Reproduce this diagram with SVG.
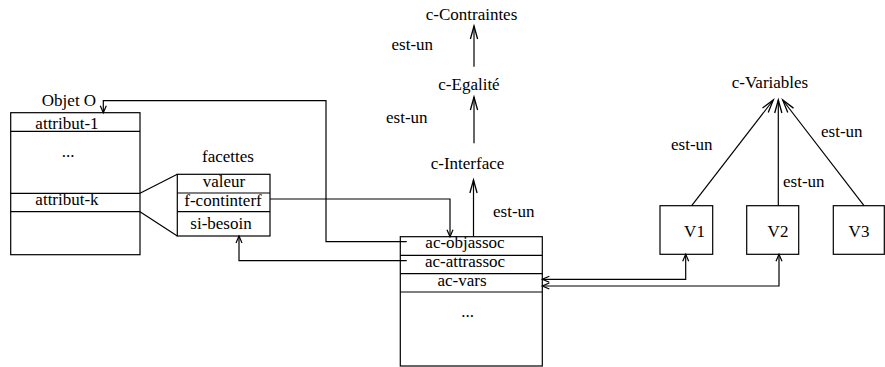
<svg xmlns="http://www.w3.org/2000/svg" width="885" height="367" viewBox="0 0 885 367">
<style>
text{font-family:"Liberation Serif","Times New Roman",serif;font-size:17px;fill:#000}
.c{text-anchor:middle}
.b{fill:#fff;stroke:#000;stroke-width:1.2}
.l{fill:none;stroke:#000;stroke-width:1.2}
</style>
<defs>
<marker id="big" markerUnits="userSpaceOnUse" markerWidth="20" markerHeight="20" viewBox="-16 -8 20 16" refX="0" refY="0" orient="auto">
<path d="M-13,-3.6 L0,0 L-13,3.6" fill="none" stroke="#000" stroke-width="1.3"/>
</marker>
<marker id="sm" markerUnits="userSpaceOnUse" markerWidth="14" markerHeight="14" viewBox="-10 -6 14 12" refX="0" refY="0" orient="auto">
<path d="M-7,-3 L0,0 L-7,3" fill="none" stroke="#000" stroke-width="1.2"/>
</marker>
</defs>
<rect width="885" height="367" fill="#fff"/>

<g id="objet-o">
<text class="c" x="69" y="106">Objet O</text>
<rect class="b" x="10.7" y="112.7" width="129.3" height="142"/>
<line class="l" x1="10.7" y1="131.3" x2="140" y2="131.3"/>
<line class="l" x1="10.7" y1="193.3" x2="140" y2="193.3"/>
<line class="l" x1="10.7" y1="211.7" x2="140" y2="211.7"/>
<text class="c" x="67" y="129">attribut-1</text>
<text class="c" x="68" y="157">...</text>
<text class="c" x="67" y="205">attribut-k</text>
</g>

<g id="facettes">
<text class="c" x="228" y="161.5">facettes</text>
<rect class="b" x="177.3" y="174.3" width="92.7" height="61.7"/>
<line class="l" x1="177.3" y1="193" x2="270" y2="193"/>
<line class="l" x1="177.3" y1="211.7" x2="270" y2="211.7"/>
<text class="c" x="224" y="186.5">valeur</text>
<text class="c" x="223" y="206">f-continterf</text>
<text class="c" x="221" y="229">si-besoin</text>
</g>

<g id="ac">
<rect class="b" x="400.3" y="236.7" width="142" height="129.3"/>
<line class="l" x1="400.3" y1="255.3" x2="542.3" y2="255.3"/>
<line class="l" x1="400.3" y1="273.7" x2="542.3" y2="273.7"/>
<line class="l" x1="400.3" y1="292" x2="542.3" y2="292"/>
<text class="c" x="465" y="248.3">ac-objassoc</text>
<text class="c" x="465" y="267">ac-attrassoc</text>
<text class="c" x="462" y="285.5">ac-vars</text>
<text class="c" x="467.5" y="317">...</text>
</g>

<g id="c-contraintes"><text class="c" x="471.5" y="20">c-Contraintes</text></g>
<g id="c-egalite"><text class="c" x="469" y="90">c-Egalité</text></g>
<g id="c-interface"><text class="c" x="467.5" y="169">c-Interface</text></g>
<g id="c-variables"><text class="c" x="770" y="88">c-Variables</text></g>

<g id="v1"><rect class="b" x="660" y="205.7" width="52.7" height="48.6"/><text class="c" x="694.5" y="236.5">V1</text></g>
<g id="v2"><rect class="b" x="746.7" y="205.7" width="52" height="48.6"/><text class="c" x="778" y="236.5">V2</text></g>
<g id="v3"><rect class="b" x="833.3" y="205.7" width="51" height="48.6"/><text class="c" x="859" y="236.5">V3</text></g>

<g id="connectors">
<line class="l" x1="474" y1="66.7" x2="474" y2="26" marker-end="url(#big)"/>
<line class="l" x1="474" y1="143.3" x2="474" y2="97" marker-end="url(#big)"/>
<line class="l" x1="473.5" y1="236.7" x2="473.5" y2="180" marker-end="url(#big)"/>
<text x="391.5" y="50">est-un</text>
<text x="386" y="123.3">est-un</text>
<text x="493" y="216.5">est-un</text>

<line class="l" x1="691.7" y1="205.7" x2="773.3" y2="100" marker-end="url(#big)"/>
<line class="l" x1="778.3" y1="205.7" x2="778.3" y2="100" marker-end="url(#big)"/>
<line class="l" x1="864" y1="205.7" x2="782.7" y2="100" marker-end="url(#big)"/>
<text x="671" y="150">est-un</text>
<text x="783" y="186.5">est-un</text>
<text x="821" y="136.5">est-un</text>

<polyline class="l" points="406.7,241.7 326,241.7 326,100.7 103.3,100.7 103.3,112.7" marker-end="url(#sm)"/>
<polyline class="l" points="270,199 450,199 450,236.7" marker-end="url(#sm)"/>
<polyline class="l" points="406.7,260.7 239,260.7 239,236" marker-end="url(#sm)"/>
<line class="l" x1="140" y1="193.3" x2="177.3" y2="174.3"/>
<line class="l" x1="140" y1="211.7" x2="177.3" y2="236"/>

<polyline class="l" points="542.3,279.3 685.7,279.3 685.7,254.3" marker-end="url(#sm)"/>
<polyline class="l" points="542.3,286 779,286 779,254.3" marker-end="url(#sm)"/>
<path class="l" d="M549.3,276.3 L542.3,279.3 L549.3,282.3"/>
<path class="l" d="M549.3,283 L542.3,286 L549.3,289"/>
</g>
</svg>
